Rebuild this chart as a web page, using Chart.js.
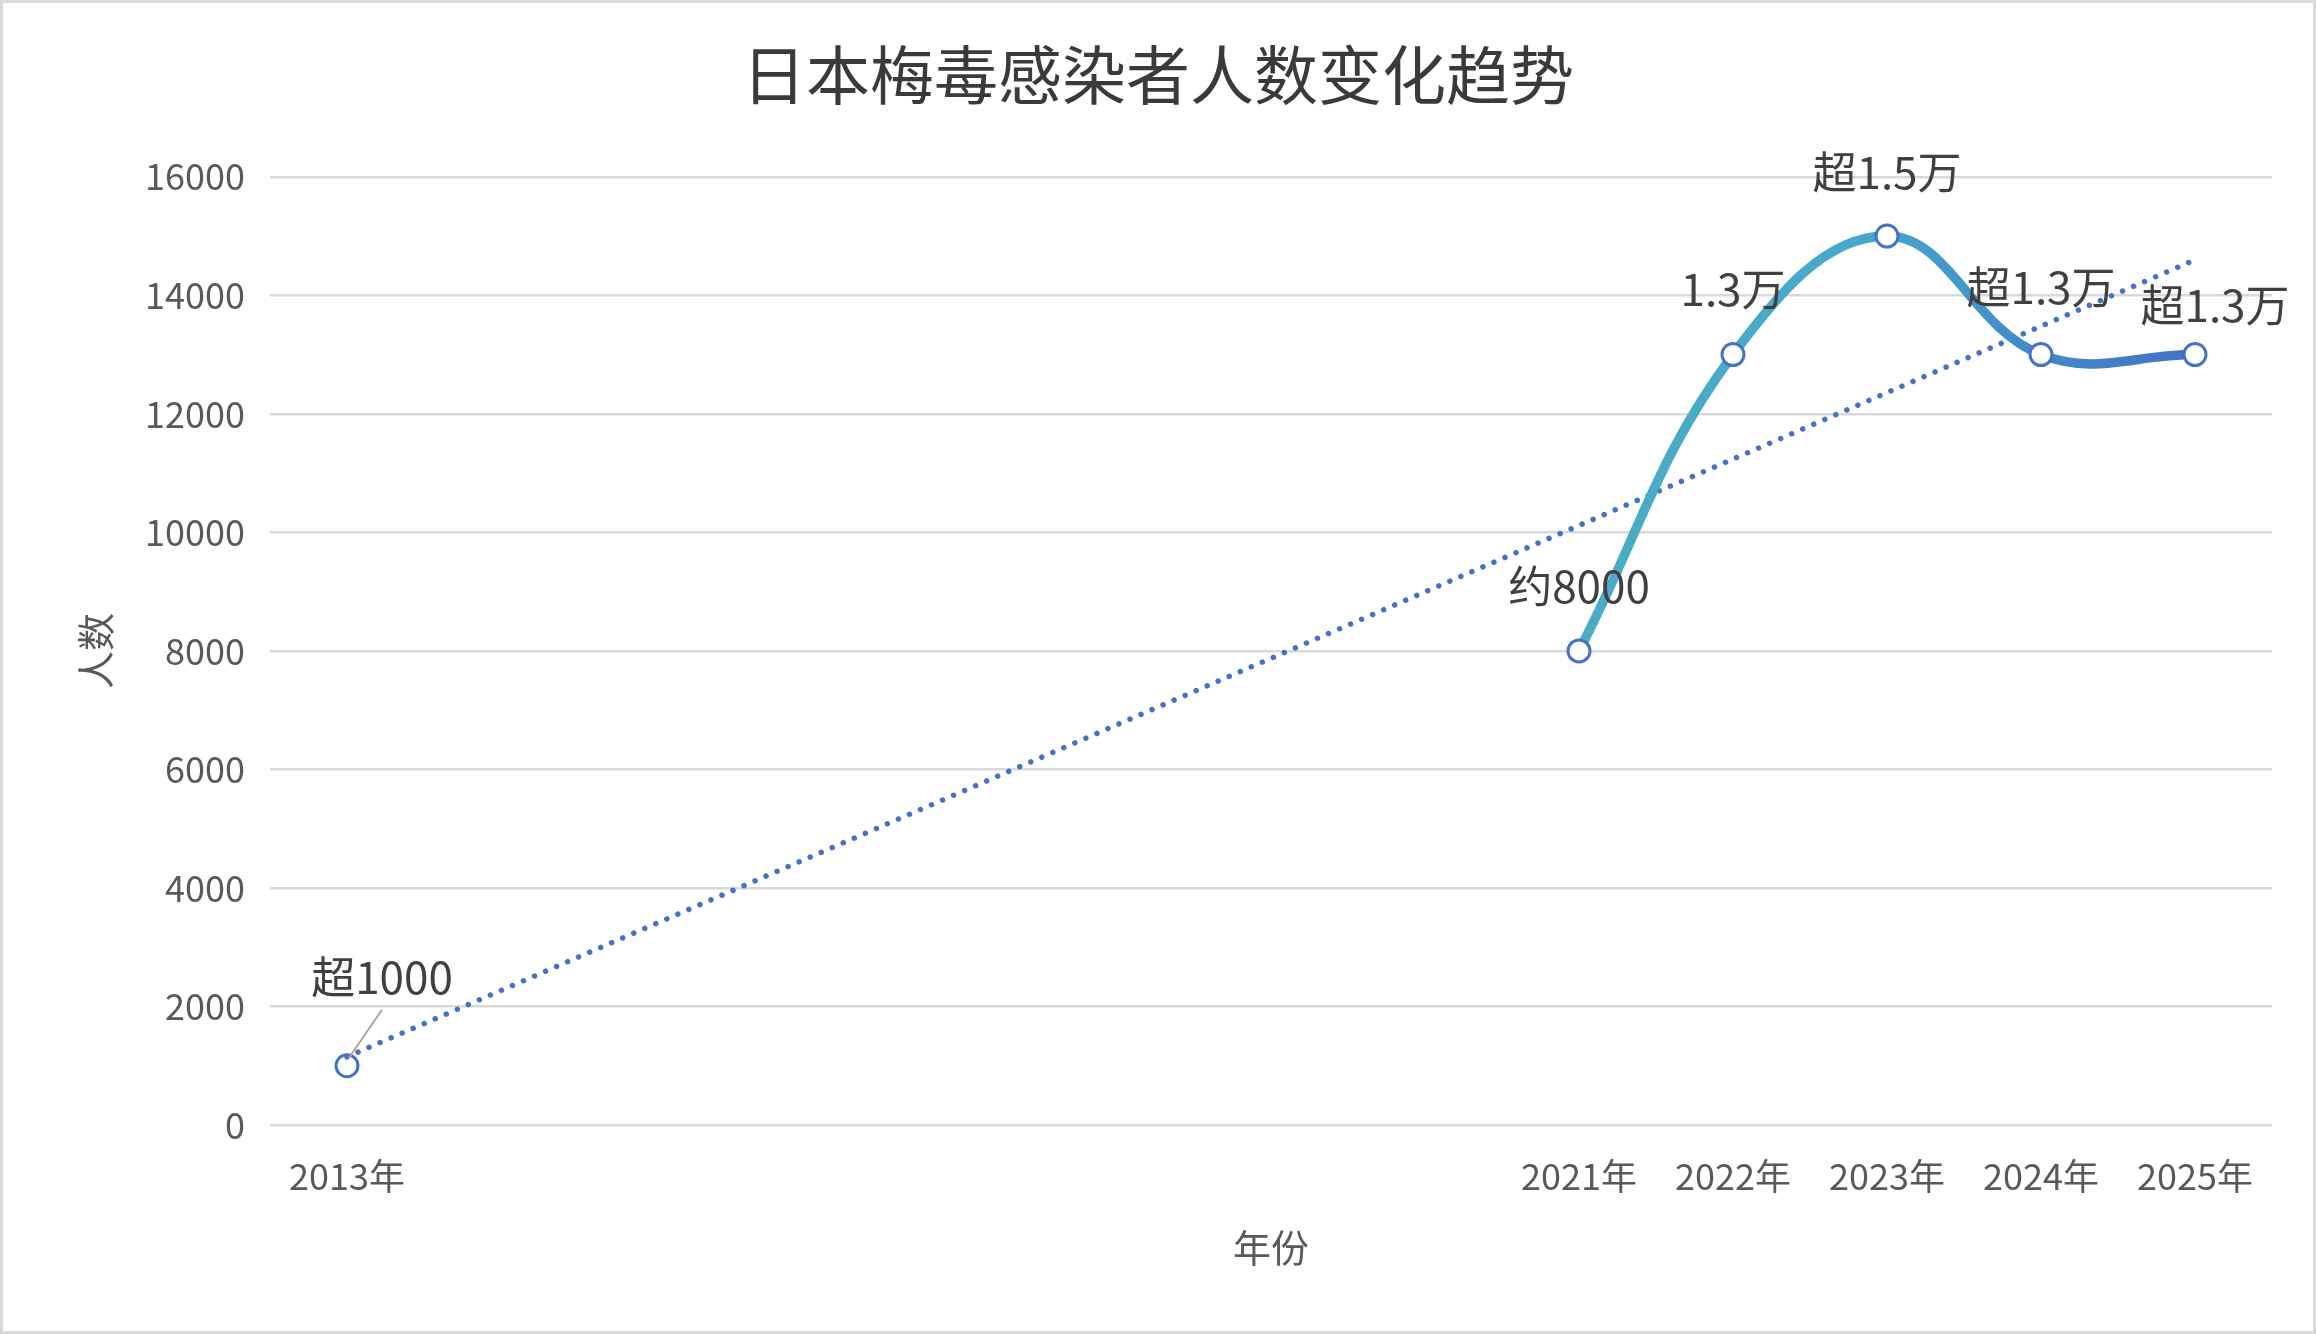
<!DOCTYPE html>
<html>
<head>
<meta charset="utf-8">
<script src="https://cdn.jsdelivr.net/npm/chart.js@4/dist/chart.umd.min.js"></script>
<style>
  html, body { margin: 0; padding: 0; background: #fff; }
  #wrap { position: relative; width: 2316px; height: 1334px; }
  #frame { position: absolute; inset: 0; border: 3px solid #d9d9d9; pointer-events: none; }
  canvas { position: absolute; left: 0; top: 0; }
</style>
</head>
<body>
<div id="wrap">
  <canvas id="chart" width="2316" height="1334"></canvas>
  <div id="frame"></div>
</div>
<script>
const years = [2013, 2021, 2022, 2023, 2024, 2025]
const cases = [1000, 8000, 13000, 15000, 13000, 13000]
const pointLabels = ["超1000", "约8000", "1.3万", "超1.5万", "超1.3万", "超1.3万"]
// linear trendline as drawn in the source chart (value at each end)
const trendYears = [2013, 2025]
const trendValues = [1150, 14600]

const FONT = "'Noto Sans CJK SC', 'Noto Sans', sans-serif"

// label offsets from each point, in px
const labelOffsets = [[35, -88], [0, -65], [0, -65], [0, -64], [0, -67], [20, -49]]

const pointLabelPlugin = {
  id: "pointLabels",
  afterDatasetsDraw(chart) {
    const { ctx, scales: { x, y } } = chart
    ctx.save()
    ctx.font = `44px ${FONT}`
    ctx.fillStyle = "#404040"
    ctx.textAlign = "center"
    ctx.textBaseline = "middle"
    years.forEach((year, i) => {
      const px = x.getPixelForValue(year)
      const py = y.getPixelForValue(cases[i])
      const [dx, dy] = labelOffsets[i]
      ctx.fillText(pointLabels[i], px + dx, py + dy)
    })
    // leader line for the first label
    const px = x.getPixelForValue(years[0])
    const py = y.getPixelForValue(cases[0])
    ctx.strokeStyle = "#a6a6a6"
    ctx.lineWidth = 2
    ctx.beginPath()
    ctx.moveTo(px + 35, py - 56)
    ctx.lineTo(px + 2, py - 8)
    ctx.stroke()
    ctx.restore()
  }
}

function lineGradient({ chart }) {
  const xs = chart.scales.x
  if (!chart.chartArea || !xs) return "#4bacc6"
  const x0 = xs.getPixelForValue(years[1])
  const x1 = xs.getPixelForValue(years[years.length - 1])
  const g = chart.ctx.createLinearGradient(x0, 0, x1, 0)
  g.addColorStop(0, "#4bacc6")
  g.addColorStop(0.45, "#47a8cb")
  g.addColorStop(0.75, "#4289ca")
  g.addColorStop(1, "#4472c4")
  return g
}

const markerStyle = {
  pointRadius: 11,
  pointBorderWidth: 3,
  pointBackgroundColor: "#ffffff",
  pointBorderColor: "#4472c4"
}

new Chart(document.getElementById("chart"), {
  type: "line",
  data: {
    datasets: [
      {
        label: "人数",
        data: years.slice(1).map((year, i) => ({ x: year, y: cases[i + 1] })),
        borderColor: lineGradient,
        borderWidth: 9.5,
        tension: 0.4,
        ...markerStyle
      },
      {
        label: "趋势",
        data: trendYears.map((year, i) => ({ x: year, y: trendValues[i] })),
        borderColor: "#4472c4",
        borderWidth: 5.5,
        borderDash: [0.01, 12],
        borderCapStyle: "round",
        pointRadius: 0,
        tension: 0
      },
      {
        label: "2013",
        data: [{ x: years[0], y: cases[0] }],
        showLine: false,
        ...markerStyle
      }
    ]
  },
  options: {
    responsive: false,
    animation: false,
    devicePixelRatio: 1,
    layout: { padding: { left: 44, right: 44, top: 0, bottom: 0 } },
    plugins: {
      legend: { display: false },
      tooltip: { enabled: false },
      title: {
        display: true,
        text: "日本梅毒感染者人数变化趋势",
        color: "#3a3a3a",
        font: { family: FONT, size: 64, weight: "normal" },
        padding: { top: 36, bottom: 64 }
      }
    },
    scales: {
      x: {
        type: "linear",
        min: 2012.5,
        max: 2025.5,
        afterBuildTicks: (scale) => { scale.ticks = years.map((v) => ({ value: v })) },
        afterFit: (scale) => { scale.height = 209 },
        grid: { display: false, drawTicks: false },
        border: { display: false },
        ticks: {
          color: "#595959",
          font: { family: FONT, size: 36 },
          padding: 30,
          autoSkip: false,
          maxRotation: 0,
          callback: (v) => v + "年"
        },
        title: {
          display: true,
          text: "年份",
          color: "#595959",
          font: { family: FONT, size: 38 },
          padding: { top: 0, bottom: 64 }
        }
      },
      y: {
        min: 0,
        max: 16000,
        afterFit: (scale) => { scale.width = 226 },
        grid: { color: "#d9d9d9", lineWidth: 2.5, drawTicks: false },
        border: { display: false },
        ticks: {
          stepSize: 2000,
          color: "#595959",
          font: { family: FONT, size: 36 },
          padding: 25,
          callback: (v) => String(v)
        },
        title: {
          display: true,
          text: "人数",
          color: "#595959",
          font: { family: FONT, size: 38 },
          padding: { top: 29, bottom: 0 }
        }
      }
    }
  },
  plugins: [pointLabelPlugin]
})
</script>
</body>
</html>
